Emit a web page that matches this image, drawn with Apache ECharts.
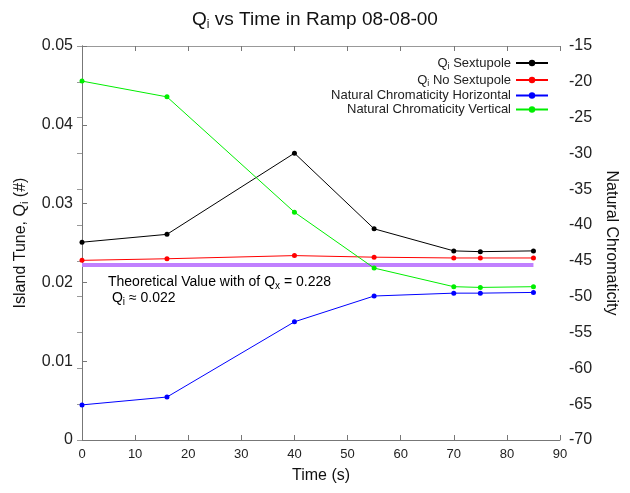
<!DOCTYPE html>
<html>
<head>
<meta charset="utf-8">
<title>Qi vs Time</title>
<script src="https://cdn.jsdelivr.net/npm/echarts@6/dist/echarts.min.js"></script>
<style>
  html, body { margin: 0; padding: 0; background: #fff; }
  #chart { width: 630px; height: 493px; }
</style>
</head>
<body>
<div id="chart"></div>
<script>
// time points (s)
var times = [0, 16, 40, 55, 70, 75, 85];
// island tune, left axis
var qiSext = [0.0251, 0.0261, 0.0364, 0.0268, 0.0240, 0.0239, 0.0240];
var qiNoSext = [0.0228, 0.0230, 0.0234, 0.0232, 0.0231, 0.0231, 0.0231];
// natural chromaticity, right axis
var chromH = [-65.1, -64.0, -53.5, -49.9, -49.5, -49.5, -49.4];
var chromV = [-19.9, -22.1, -38.2, -46.0, -48.6, -48.7, -48.6];
// theoretical value line
var theoryQi = 0.0222;
var theoryRange = [0, 85];

var pairs = function (xs, ys) {
  return xs.map(function (x, i) { return [x, ys[i]]; });
};

var font = 'Liberation Sans, Arial, sans-serif';
var rich = {
  n: { fontFamily: font, fontSize: 13, color: '#222', lineHeight: 14 },
  s: { fontFamily: font, fontSize: 9, color: '#222', padding: [7, 0, 0, 0], lineHeight: 14 }
};

var chart = echarts.init(document.getElementById('chart'));
chart.setOption({
  animation: false,
  title: {
    text: '{n|Q}{s|i}{n| vs Time in Ramp 08-08-00}',
    left: 'center',
    top: 4,
    textStyle: {
      fontWeight: 'normal',
      rich: {
        n: { fontFamily: font, fontSize: 19, color: '#111', fontWeight: 'normal' },
        s: { fontFamily: font, fontSize: 12, color: '#111', fontWeight: 'normal', padding: [10, 0, 0, 0] }
      }
    }
  },
  legend: {
    orient: 'vertical',
    align: 'right',
    right: 76,
    top: 50,
    itemWidth: 32,
    itemHeight: 8,
    itemGap: 1,
    data: ['Qi Sextupole', 'Qi No Sextupole', 'Natural Chromaticity Horizontal', 'Natural Chromaticity Vertical'],
    formatter: function (name) {
      if (name.indexOf('Qi') === 0) {
        return '{n|Q}{s|i}{n|' + name.slice(2) + '}';
      }
      return '{n|' + name + '}';
    },
    textStyle: { rich: rich }
  },
  grid: { left: 82, right: 70, top: 46, bottom: 53 },
  xAxis: [{
    type: 'value',
    min: 0, max: 90, interval: 10,
    name: 'Time (s)',
    nameLocation: 'middle',
    nameGap: 28,
    nameTextStyle: { fontFamily: font, fontSize: 16, color: '#111' },
    axisLine: { lineStyle: { color: '#777' } },
    axisTick: { inside: true, length: 5, lineStyle: { color: '#777' } },
    axisLabel: { fontFamily: font, fontSize: 13, color: '#222', margin: 8 },
    splitLine: { show: false }
  }, {
    type: 'value',
    position: 'top',
    min: 0, max: 90, interval: 10,
    axisLine: { lineStyle: { color: '#999' } },
    axisTick: { inside: true, length: 5, lineStyle: { color: '#777' } },
    axisLabel: { show: false },
    splitLine: { show: false }
  }],
  yAxis: [{
    type: 'value',
    min: 0, max: 0.05, interval: 0.01,
    name: '{n|Island Tune, Q}{s|i}{n| (#)}',
    nameLocation: 'middle',
    nameGap: 52,
    nameTextStyle: {
      rich: {
        n: { fontFamily: font, fontSize: 16, color: '#111' },
        s: { fontFamily: font, fontSize: 11, color: '#111', padding: [8, 0, 0, 0] }
      }
    },
    axisLine: { show: true, lineStyle: { color: '#777' } },
    axisTick: { show: true, inside: true, length: 5, lineStyle: { color: '#777' } },
    axisLabel: { fontFamily: font, fontSize: 16, color: '#222', margin: 9 },
    splitLine: { show: false }
  }, {
    type: 'value',
    position: 'right',
    min: -70, max: -15, interval: 5,
    name: 'Natural Chromaticity',
    nameLocation: 'middle',
    nameRotate: -90,
    nameGap: 38,
    nameTextStyle: { fontFamily: font, fontSize: 16, color: '#111' },
    axisLine: { show: true, lineStyle: { color: '#777' } },
    axisTick: { show: true, inside: true, length: 5, lineStyle: { color: '#999' } },
    axisLabel: { fontFamily: font, fontSize: 16, color: '#222', margin: 9 },
    splitLine: { show: false }
  }],
  graphic: [{
    type: 'text',
    left: 108,
    top: 273,
    style: {
      text: '{n|Theoretical Value with of Q}{s|x}{n| = 0.228}\n{n| Q}{s|i}{n| \u2248 0.022}',
      rich: {
        n: { fontFamily: font, fontSize: 14, color: '#111', lineHeight: 16 },
        s: { fontFamily: font, fontSize: 10, color: '#111', padding: [8, 0, 0, 0], lineHeight: 16 }
      }
    }
  }],
  series: [{
    name: 'theory',
    type: 'line',
    yAxisIndex: 0,
    data: pairs(theoryRange, [theoryQi, theoryQi]),
    showSymbol: false,
    lineStyle: { color: '#c080ff', width: 4 },
    silent: true,
    z: 1
  }, {
    name: 'Qi Sextupole',
    type: 'line',
    yAxisIndex: 0,
    data: pairs(times, qiSext),
    symbol: 'circle', symbolSize: 5,
    color: '#000',
    lineStyle: { width: 1 }
  }, {
    name: 'Qi No Sextupole',
    type: 'line',
    yAxisIndex: 0,
    data: pairs(times, qiNoSext),
    symbol: 'circle', symbolSize: 5,
    color: '#ff0000',
    lineStyle: { width: 1 }
  }, {
    name: 'Natural Chromaticity Horizontal',
    type: 'line',
    yAxisIndex: 1,
    data: pairs(times, chromH),
    symbol: 'circle', symbolSize: 5,
    color: '#0000ff',
    lineStyle: { width: 1 }
  }, {
    name: 'Natural Chromaticity Vertical',
    type: 'line',
    yAxisIndex: 1,
    data: pairs(times, chromV),
    symbol: 'circle', symbolSize: 5,
    color: '#00ee00',
    lineStyle: { width: 1 }
  }]
});
</script>
</body>
</html>
